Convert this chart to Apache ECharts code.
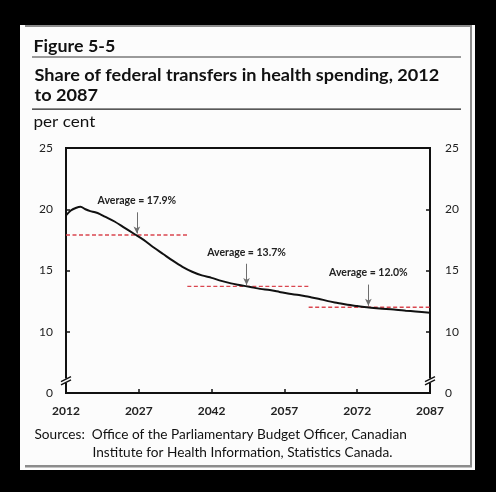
<!DOCTYPE html>
<html>
<head>
<meta charset="utf-8">
<script src="https://cdn.jsdelivr.net/npm/echarts@6/dist/echarts.min.js"></script>
<style>
html,body{margin:0;padding:0;background:#000;}
#c{width:496px;height:492px;}
</style>
</head>
<body>
<div id="c"></div>
<script>
// ---- data ----
const years = [2012,2013,2014,2015,2016,2017,2018,2019,2020,2022,2024,2026,2028,2030,2032,2034,2036,2038,2040,2042,2044,2046,2048,2050,2052,2054,2056,2058,2060,2062,2064,2066,2068,2070,2072,2074,2076,2078,2080,2082,2084,2087];
const share = [19.5,19.9,20.1,20.2,20.0,19.85,19.75,19.6,19.4,19.0,18.5,18.0,17.5,16.9,16.35,15.8,15.3,14.9,14.6,14.4,14.15,13.95,13.8,13.65,13.5,13.4,13.25,13.1,13.0,12.85,12.7,12.5,12.35,12.2,12.1,12.0,11.92,11.85,11.8,11.72,11.65,11.55];
const avgStart = [2012,2037,2062];
const avgEnd   = [2037,2062,2087];
const avgValue = [17.9,13.7,12.0];
const avgLabels = ['Average = 17.9%','Average = 13.7%','Average = 12.0%'];
const avgArrowYear = [2026.6,2049.2,2074.3];
const xTickLabels = ['2012','2027','2042','2057','2072','2087'];
const yTickLabels = ['0','10','15','20','25'];
const baseYear = 2012;

const FONT = 'Lato, "Open Sans", sans-serif';
const chart = echarts.init(document.getElementById('c'));

const avgSeries = avgValue.map((v,i)=>({
  type:'line',
  data:[[avgStart[i]-baseYear,v],[avgEnd[i]-baseYear,v]],
  symbol:'none',
  lineStyle:{color:'#d9464f',width:1.3,type:[4,2.5]},
  z:3,
  silent:true,
  markLine:{
    silent:true,
    symbol:['none','arrow'],
    symbolSize:[5,7],
    lineStyle:{color:'#6e6e6e',width:1,type:'solid'},
    label:{show:true,position:'start',formatter:avgLabels[i],color:'#222',fontFamily:FONT,fontWeight:'bold',fontSize:10.5,distance:6},
    data:[[{coord:[avgArrowYear[i]-baseYear,v+1.85]},{coord:[avgArrowYear[i]-baseYear,v+0.12]}]]
  }
}));

const yAxisBase = {
  type:'value',min:5,max:25,interval:5,
  axisLine:{show:true,lineStyle:{color:'#111',width:2}},
  axisTick:{show:true,inside:true,length:4,lineStyle:{color:'#111',width:1.5}},
  splitLine:{show:false},
  axisLabel:{color:'#222',fontFamily:FONT,fontSize:12,
    formatter:(v)=>yTickLabels[[5,10,15,20,25].indexOf(v)]}
};

function txt(id,x,y,text,size,weight,sx,lh){
  return {id:id,type:'text',x:x,y:y,scaleX:sx,originX:0,originY:0,
    style:{x:0,y:0,text:text,fontFamily:FONT,fontWeight:weight,fontSize:size,lineHeight:lh||size*1.2,fill:'#111',verticalAlign:'top',align:'left'}};
}

chart.setOption({
  animation:false,
  backgroundColor:'#000',
  graphic:[
    {id:'panel',type:'rect',shape:{x:20,y:25,width:455,height:445},style:{fill:'#fcfcfc'},z:-10},
    {id:'bt',type:'rect',shape:{x:25,y:25,width:447,height:2},style:{fill:'#8c8c8c'},z:-9},
    {id:'br',type:'rect',shape:{x:470,y:25,width:2,height:442},style:{fill:'#8c8c8c'},z:-9},
    {id:'bb',type:'rect',shape:{x:25,y:465,width:447,height:2.5},style:{fill:'#8c8c8c'},z:-9},
    {id:'r1',type:'rect',shape:{x:32,y:56,width:429,height:2},style:{fill:'#9a9a9a'},z:-9},
    {id:'r2',type:'rect',shape:{x:32,y:108.5,width:429,height:1.2},style:{fill:'#222'},z:-9},
    txt('t1',33.5,36,'Figure 5-5',17.5,'bold',1.02),
    txt('t2',34.5,65,'Share of federal transfers in health spending, 2012\nto 2087',17.5,'bold',1.035,20),
    txt('t3',33.5,113,'per cent',15,'normal',1.14),
    txt('t4',34.5,427,'Sources:  Office of the Parliamentary Budget Officer, Canadian',13,'normal',1.05),
    txt('t5',92.5,445,'Institute for Health Information, Statistics Canada.',13,'normal',1.05)
  ],
  grid:{left:66,right:66,top:148,bottom:99,show:true,borderColor:'#111',borderWidth:2,backgroundColor:'transparent'},
  xAxis:{
    type:'value',min:0,max:75,interval:15,
    axisLine:{show:true,lineStyle:{color:'#111',width:2}},
    axisTick:{show:true,inside:true,length:4,lineStyle:{color:'#111',width:1.5}},
    splitLine:{show:false},
    axisLabel:{color:'#222',fontFamily:FONT,fontWeight:'bold',fontSize:12,margin:12,
      formatter:(v)=>xTickLabels[v/15]}
  },
  yAxis:[
    Object.assign({},yAxisBase,{position:'left',axisLabel:Object.assign({},yAxisBase.axisLabel,{margin:13})}),
    Object.assign({},yAxisBase,{position:'right',axisLabel:Object.assign({},yAxisBase.axisLabel,{margin:15})})
  ],
  series:[
    {type:'line',data:years.map((y,i)=>[y-baseYear,share[i]]),symbol:'none',smooth:0.3,
     lineStyle:{color:'#111',width:2},z:5,silent:true},
    ...avgSeries
  ]
});

// axis break marks
const g=[];
[0,75].forEach((xv,k)=>{
  const p = chart.convertToPixel({gridIndex:0},[xv,6.0]);
  const x=p[0], y=p[1];
  g.push({id:'gap'+k,type:'rect',shape:{x:x-3,y:y-2.2,width:6,height:4.4},style:{fill:'#fcfcfc'},z:100});
  g.push({id:'ba'+k,type:'line',shape:{x1:x-5,y1:y+0.8,x2:x+5,y2:y-4.2},style:{stroke:'#111',lineWidth:1.3},z:101});
  g.push({id:'bc'+k,type:'line',shape:{x1:x-5,y1:y+4.2,x2:x+5,y2:y-0.8},style:{stroke:'#111',lineWidth:1.3},z:101});
});
chart.setOption({graphic:g});
</script>
</body>
</html>
